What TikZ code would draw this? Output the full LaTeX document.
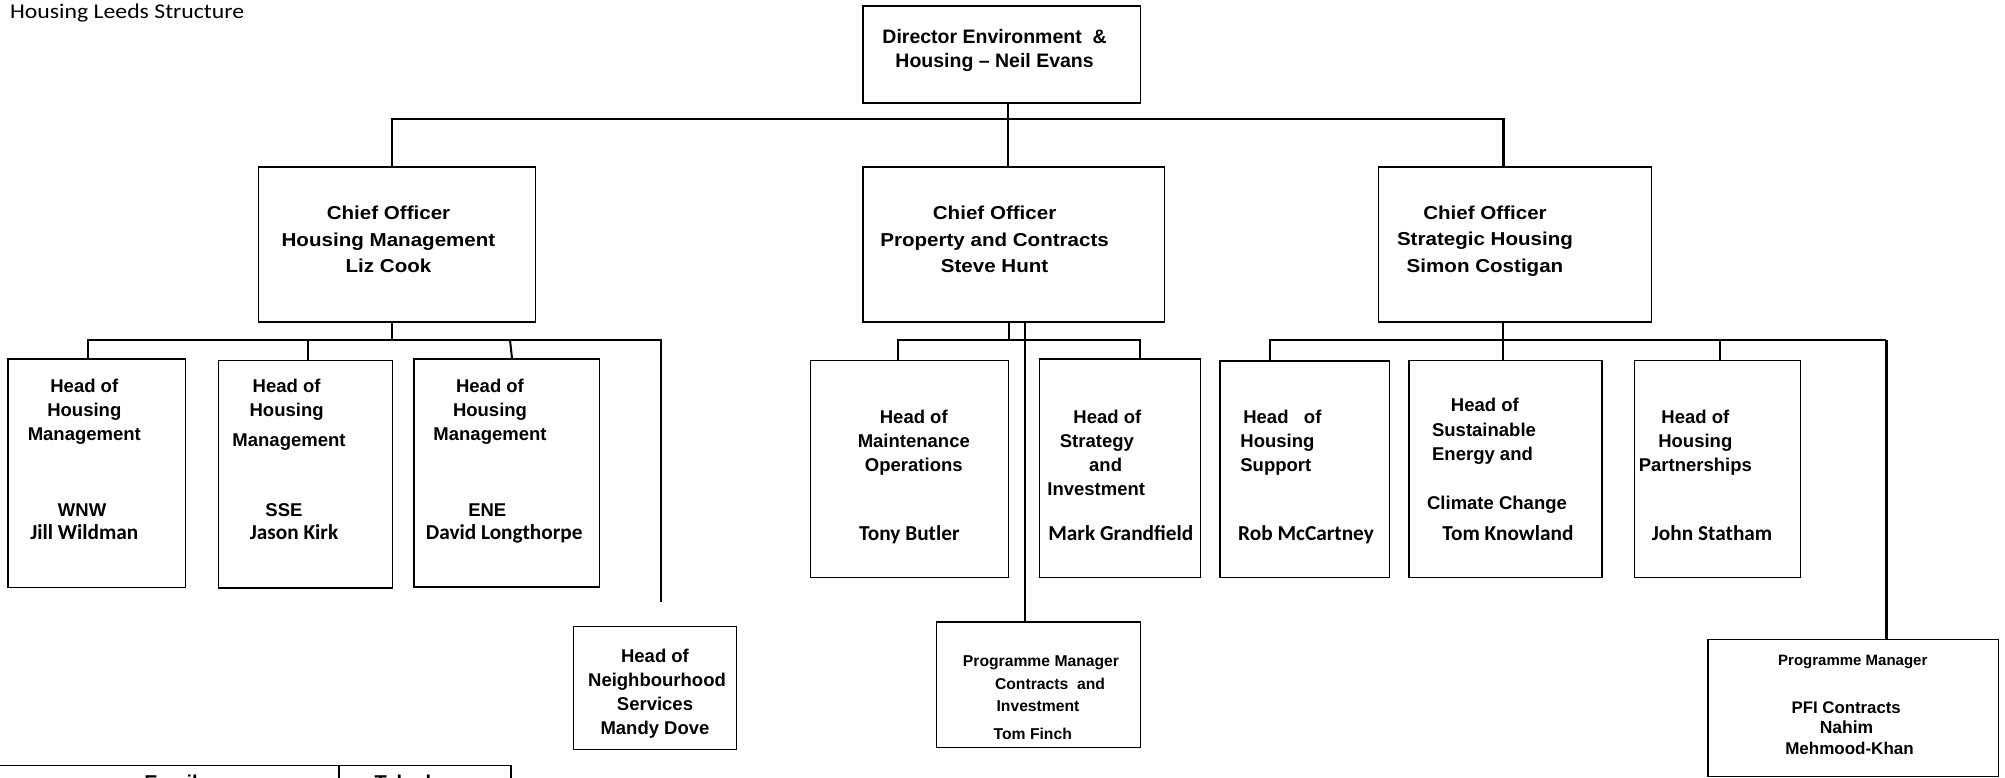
\documentclass[tikz,border=0pt]{standalone}
\usepackage{fontspec}
\newfontfamily\arial{Liberation Sans}
\newfontfamily\arialwide[FakeStretch=1.1]{Liberation Sans}
\newfontfamily\calib{Carlito}
\newfontfamily\calibwide[FakeStretch=1.13]{Carlito}
\newcommand\shiftby[2]{\makebox[0pt]{\kern#1\kern#1\relax#2}}
\newcommand\nm[1]{{\calib\bfseries\fontsize{21.3}{24}\selectfont #1}}
\tikzset{
  box/.style={draw, rectangle, line width=1.4pt, inner sep=0pt},
  txt/.style={align=center, inner sep=0pt, anchor=base},
  hd/.style={txt, font={\arial\bfseries\fontsize{18.5}{24}\selectfont}},
  chief/.style={txt, font={\arialwide\bfseries\fontsize{18.7}{26.5}\selectfont}},
  thinln/.style={line width=1.3pt},
  medln/.style={line width=2pt},
  thickln/.style={line width=2.8pt},
}
\begin{document}
\begin{tikzpicture}[x=1pt,y=-1pt]
\fill[white] (0,0) rectangle (2005,778);
\useasboundingbox (0,0) rectangle (2005,778);

% title
\node[anchor=base west, inner sep=0pt, font={\calibwide\fontsize{21}{24}\selectfont}] (title) at (10,18.5) {Housing Leeds Structure};

% boxes
\node[box, minimum width=277.6, minimum height=97] (dir) at (1001.8,54.5) {};
\node[box, minimum width=277.2, minimum height=155] (co1) at (397.1,244.5) {};
\node[box, minimum width=301.3, minimum height=155] (co2) at (1013.65,244.5) {};
\node[box, minimum width=273.2, minimum height=155] (co3) at (1515,244.5) {};
\node[box, minimum width=177.3, minimum height=228.3] (hm1) at (96.65,473.15) {};
\node[box, minimum width=174.1, minimum height=227.3] (hm2) at (305.35,474.35) {};
\node[box, minimum width=185.8, minimum height=228] (hm3) at (506.7,473) {};
\node[box, minimum width=163.4, minimum height=122.6] (nbh) at (655,688) {};
\node[box, minimum width=197.8, minimum height=217] (mnt) at (909.6,469.2) {};
\node[box, minimum width=160.7, minimum height=218.7] (str) at (1120.05,468.35) {};
\node[box, minimum width=204, minimum height=125.3] (pmc) at (1038.2,684.65) {};
\node[box, minimum width=169.7, minimum height=216.7] (hsp) at (1304.85,469.35) {};
\node[box, minimum width=193, minimum height=217] (sus) at (1505.4,469.2) {};
\node[box, minimum width=165.8, minimum height=217] (hpt) at (1717.4,469.2) {};
\node[box, minimum width=290.7, minimum height=137.2] (pfi) at (1853.35,707.9) {};
\node[box, line width=1.6pt, minimum width=343.3, minimum height=60, anchor=north west] (tc1) at (-5,764.7) {};
\node[box, line width=1.6pt, minimum width=171.7, minimum height=60, anchor=north west] (tc2) at (338.3,764.7) {};

% texts (anchor = baseline of the last line)
\node[txt, font={\arial\bfseries\fontsize{19.5}{24}\selectfont}] (dirt) at (994.6,68) {Director Environment\ \ \&\\Housing – Neil Evans};
\node[chief] (co1t) at (388.5,272.7) {Chief Officer\\Housing Management\\Liz Cook};
\node[chief] (co2t) at (994.6,272.7) {Chief Officer\\Property and Contracts\\Steve Hunt};
\node[chief] (co3t) at (1485,272.2) {Chief Officer\\Strategic Housing\\Simon Costigan};

\node[hd] (hm1t) at (84.3,539.9) {Head of\\Housing\\Management\\[52pt]\shiftby{-2.2pt}{WNW}\\[-1pt]\nm{Jill Wildman}};
\node[hd] (hm2t) at (286.6,539.9) {Head of\\Housing\\[6pt]\shiftby{2.4pt}{Management}\\[46pt]\shiftby{-2.6pt}{SSE}\\[-1pt]\shiftby{7.4pt}{\nm{Jason Kirk}}};
\node[hd] (hm3t) at (490,539.9) {Head of\\Housing\\Management\\[52pt]\shiftby{-2.7pt}{ENE}\\[-1pt]\shiftby{14.2pt}{\nm{David Longthorpe}}};
\node[hd] (nbht) at (655,734.6) {Head of\\\shiftby{2pt}{Neighbourhood}\\Services\\Mandy Dove};
\node[hd] (mntt) at (913.8,540.9) {Head of\\Maintenance\\Operations\\[45pt]\shiftby{-4.4pt}{\nm{Tony Butler}}};
\node[hd] (strt) at (1100,540.9) {\shiftby{7.4pt}{Head of}\\\shiftby{-3.1pt}{Strategy}\\\shiftby{5.6pt}{and}\\\shiftby{-3.8pt}{Investment}\\[21pt]\shiftby{20.8pt}{\nm{Mark Grandfield}}};
\node[hd] (hspt) at (1280,540.9) {\shiftby{2.4pt}{Head\ \ \ of}\\\shiftby{-2.6pt}{Housing}\\\shiftby{-4.2pt}{Support}\\[45pt]\shiftby{26pt}{\nm{Rob McCartney}}};
\node[hd] (sust) at (1484,540.2) {\shiftby{0.8pt}{Head of}\\[1pt]Sustainable\\\shiftby{-1.5pt}{Energy and}\\[25pt]\shiftby{13pt}{Climate Change}\\[7pt]\shiftby{23.9pt}{\nm{Tom Knowland}}};
\node[hd] (hptt) at (1695.3,540.9) {Head of\\Housing\\Partnerships\\[45pt]\shiftby{16.7pt}{\nm{John Statham}}};
\node[txt, font={\arial\bfseries\fontsize{15.7}{22.6}\selectfont}] (pmct) at (1041,739.9) {Programme Manager\\\shiftby{9pt}{Contracts\ \ and}\\\shiftby{-3pt}{Investment}\\[5.7pt]\shiftby{-8.2pt}{Tom Finch}};
\node[txt, font={\arial\bfseries\fontsize{15}{20.5}\selectfont}] (pfit) at (1850,754.4) {\shiftby{2.8pt}{Programme Manager}\\[27.5pt]\shiftby{-3.8pt}{\fontsize{16.8}{20}\selectfont PFI Contracts}\\\shiftby{-3.5pt}{\fontsize{17.5}{20}\selectfont Nahim}\\\shiftby{-0.5pt}{\fontsize{17}{20}\selectfont Mehmood-Khan}};
\node[txt, font={\arial\bfseries\fontsize{20}{24}\selectfont}] (tc1t) at (171,789.6) {Email};
\node[txt, font={\arial\bfseries\fontsize{20}{24}\selectfont}] (tc2t) at (424,789.6) {Telephone};

% connectors
\coordinate (busA) at (0,119);
\coordinate (busB) at (0,340);
\coordinate (nbhEnd) at ([xshift=5.7pt,yshift=24pt]nbh.north);

\draw[thinln] ([xshift=6.2pt]dir.south) -- ([xshift=6.2pt]dir.south |- co2.north);
\draw[thinln] ([xshift=-5.1pt]co1.north) -- ([xshift=-5.1pt]co1.north |- busA);
\draw[thickln, line cap=rect] ([xshift=-5.1pt]co1.north |- busA) -- ([xshift=-11.7pt]co3.north |- busA) -- ([xshift=-11.7pt]co3.north);

\draw[thickln] ([xshift=-5.1pt]co1.south) -- ([xshift=-5.1pt]co1.south |- busB);
\draw[medln] ([xshift=-8.65pt]hm1.north) -- ([xshift=-8.65pt]hm1.north |- busB) -- (nbhEnd |- busB) -- (nbhEnd);
\draw[medln] ([xshift=2.65pt]hm2.north) -- ([xshift=2.65pt]hm2.north |- busB);
\draw[medln] ([xshift=5.3pt]hm3.north) -- ([xshift=3.3pt]hm3.north |- busB);

\draw[thinln] ([xshift=-4.65pt]co2.south) -- ([xshift=-4.65pt]co2.south |- busB);
\draw[thickln] ([xshift=11.35pt]co2.south) -- ([xshift=-13.2pt]pmc.north);
\draw[medln] ([xshift=-11.8pt]mnt.north) -- ([xshift=-11.8pt]mnt.north |- busB) -- ([xshift=19.65pt]str.north |- busB) -- ([xshift=19.65pt]str.north);

\draw[medln] ([xshift=-11.7pt]co3.south) -- ([xshift=-11.7pt]co3.south |- busB);
\draw[medln] ([xshift=-34.85pt]hsp.north) -- ([xshift=-34.85pt]hsp.north |- busB) -- ([xshift=32.95pt]pfi.north |- busB);
\draw[thickln] ([xshift=32.95pt]pfi.north |- busB) -- ([xshift=32.95pt]pfi.north);
\draw[medln] ([xshift=-2.1pt]sus.north) -- ([xshift=-2.1pt]sus.north |- busB);
\draw[medln] ([xshift=2.3pt]hpt.north) -- ([xshift=2.3pt]hpt.north |- busB);
\end{tikzpicture}
\end{document}
